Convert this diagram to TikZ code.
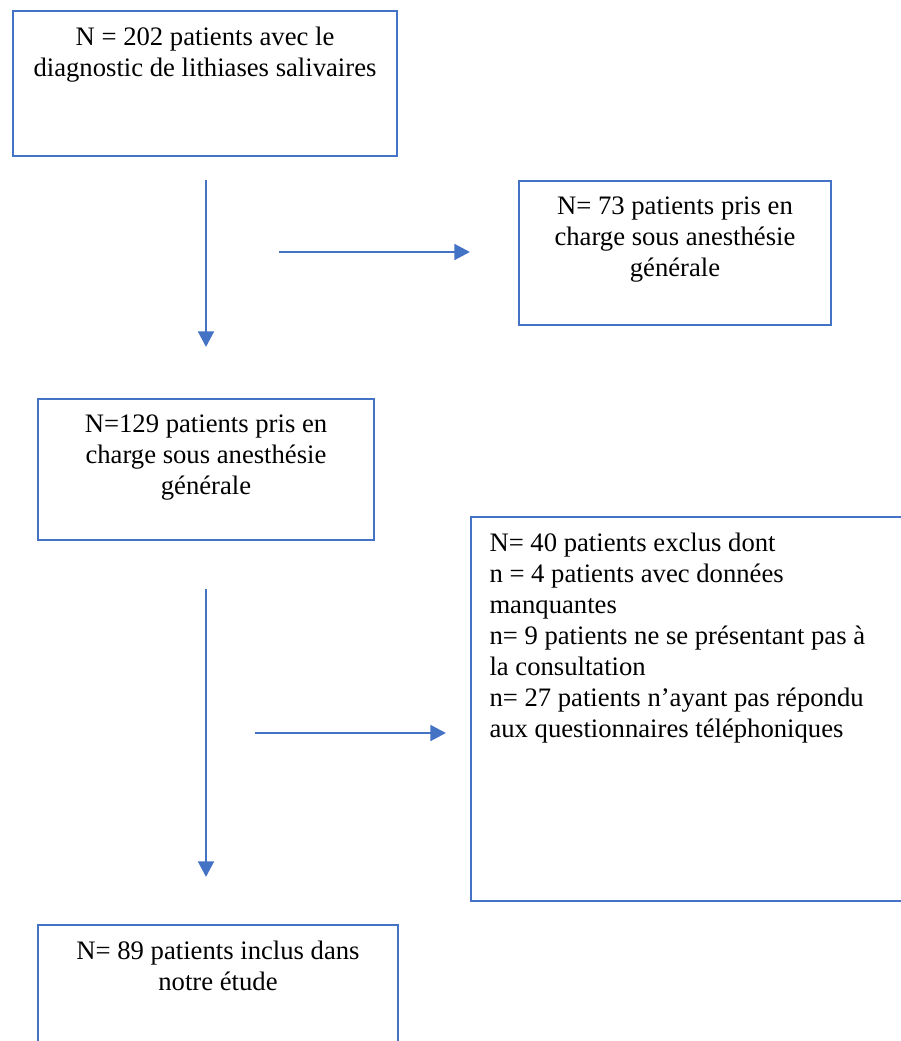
\documentclass[tikz,border=0pt]{standalone}
\usepackage{fontspec}
\setmainfont{Liberation Serif}
\usetikzlibrary{arrows.meta,positioning,fit}
\definecolor{boxblue}{HTML}{4472C4}

\tikzset{
  box/.style={draw=boxblue, line width=0.95pt, inner sep=0pt},
  flow/.style={draw=boxblue, line width=1.3pt, -{Triangle[length=7pt,width=7pt]}},
  txt/.style={inner sep=0pt, font=\fontsize{12}{13.95}\selectfont},
}

\begin{document}
\begin{tikzpicture}[x=0.45pt,y=-0.45pt]
  \useasboundingbox (0,0) rectangle (901,1041);
  \clip (0,0) rectangle (901,1041);

  % boxes
  \node [box, fit={(13,11) (397,156)}] (total) {};
  \node [box, fit={(519,181) (831,325)}] (ga) {};
  \node [box, fit={(38,399) (374,540)}] (pec) {};
  \node [box, fit={(471,517) (910,901)}] (exclus) {};
  \node [box, fit={(38,925) (398,1060)}] (inclus) {};

  % texts
  \node [txt, align=center, below=7.4pt of total.north] (totaltxt)
    {N = 202 patients avec le\\diagnostic de lithiases salivaires};
  \node [txt, align=center, below=7.6pt of ga.north] (gatxt)
    {N= 73 patients pris en\\charge sous anesthésie\\générale};
  \node [txt, align=center, below=7.6pt of pec.north] (pectxt)
    {N=129 patients pris en\\charge sous anesthésie\\générale};
  \node [txt, align=left, below right=7.6pt and 8.6pt of exclus.north west] (exclustxt)
    {N= 40 patients exclus dont\\
     n = 4 patients avec données\\
     manquantes\\
     n= 9 patients ne se présentant pas à\\
     la consultation\\
     n= 27 patients n’ayant pas répondu\\
     aux questionnaires téléphoniques};
  \node [txt, align=center, below=7.4pt of inclus.north] (inclustxt)
    {N= 89 patients inclus dans\\notre étude};

  % arrows
  \coordinate (d1s) at (206,180);
  \coordinate (d1e) at (206,347);
  \coordinate (r1s) at (279,252);
  \coordinate (r1e) at (470,252);
  \coordinate (d2s) at (206,589);
  \coordinate (d2e) at (206,877);
  \coordinate (r2s) at (255,733);
  \coordinate (r2e) at (446,733);
  \draw [flow] (d1s) -- (d1e);
  \draw [flow] (r1s) -- (r1e);
  \draw [flow] (d2s) -- (d2e);
  \draw [flow] (r2s) -- (r2e);
\end{tikzpicture}
\end{document}
